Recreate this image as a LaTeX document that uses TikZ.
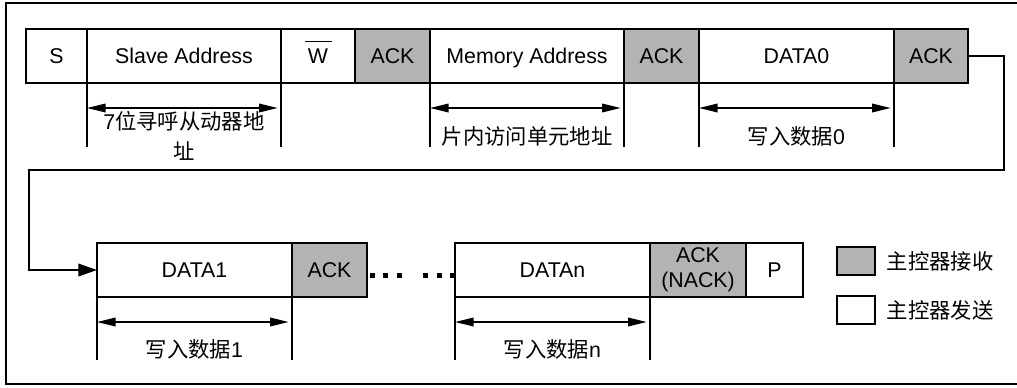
\documentclass[tikz,border=0pt]{standalone}
\usepackage{fontspec}
\setmainfont{Liberation Sans}
\newfontfamily\cjk{Noto Sans CJK SC}
\usepackage{tikz}
\usetikzlibrary{arrows.meta}
\usetikzlibrary{positioning}
\definecolor{ackgray}{RGB}{179,179,179}

\begin{document}
    \begin{tikzpicture}[x=0.75pt, y=-0.75pt,
            font=\fontsize{16}{19}\selectfont,
            field/.style={draw, line width=1.5pt, inner sep=0pt, outer sep=0pt,
                minimum height=40.5pt, text height=11pt, text depth=0pt},
            fw/.style={minimum width=#1*0.75pt},
            ack/.style={field, fill=ackgray},
            guide/.style={line width=1.1pt},
            span/.style={line width=1.1pt, shorten >=2.5pt,
                {Triangle[length=14pt, width=6.5pt]}-{Triangle[length=14pt, width=6.5pt]}},
            note/.style={inner sep=0pt, align=center},
            link/.style={line width=1.1pt, -{Triangle[length=14pt, width=9.5pt]}},
            keybox/.style={draw, line width=1.5pt, inner sep=0pt,
                minimum width=28.5pt, minimum height=20.5pt}]
        \useasboundingbox (0,0) rectangle (1017,387);
        \draw[line width=1.5pt] (1017,3) -| (6,384) -- (1017,384); % outer frame

        % first frame row
        \node[field, fw=61, anchor=north west] (s) at (26,29) {S};
        \node[field, fw=194, right=0pt of s] (slave) {Slave Address};
        \node[field, fw=74, right=0pt of slave] (wbit)
            {\rlap{\hspace*{-2.25pt}\smash{\rule[16pt]{20.25pt}{1.1pt}}}W};
        \node[ack, fw=75, right=0pt of wbit] (ack1) {ACK};
        \node[field, fw=194, right=0pt of ack1] (memaddr) {Memory Address};
        \node[ack, fw=75, right=0pt of memaddr] (ack2) {ACK};
        \node[field, fw=195, right=0pt of ack2] (data0) {DATA0};
        \node[ack, fw=74, right=0pt of data0] (ack3) {ACK};

        % second frame row
        \node[field, fw=195, anchor=north west] (data1) at (97,243) {DATA1};
        \node[ack, fw=75, right=0pt of data1] (ack4) {ACK};
        \node[field, fw=195, right=66pt of ack4] (datan) {DATAn};
        \node[ack, fw=96, right=0pt of datan, align=center,
            text height=, text depth=] (ackn) {ACK\\(NACK)};
        \node[field, fw=57, right=0pt of ackn] (p) {P};
        \foreach \x in {370,383,397,423,437,450}
            \fill (\x,273) rectangle +(5,4.5); % skipped bytes

        % extent of each field
        \foreach \n in {slave, memaddr, data0}{
            \draw[guide] (\n.south west) -- +(0,64);
            \draw[guide] (\n.south east) -- +(0,64);
            \draw[span] ([yshift=-18.75pt]\n.south west) -- ([yshift=-18.75pt]\n.south east);
        }
        \foreach \n in {data1, datan}{
            \draw[guide] (\n.south west) -- +(0,63);
            \draw[guide] (\n.south east) -- +(0,63);
            \draw[span] ([yshift=-18.75pt]\n.south west) -- ([yshift=-18.75pt]\n.south east);
        }
        \node[note] (lblslave) at ([yshift=-39.75pt]slave.south)
            {7{\cjk 位寻呼从动器地}\\[3pt]{\cjk 址}};
        \node[note] (lblmem) at ([yshift=-39.75pt]memaddr.south) {\cjk 片内访问单元地址};
        \node[note] (lbldata0) at ([yshift=-39.75pt]data0.south) {{\cjk 写入数据}0};
        \node[note] (lbldata1) at ([yshift=-39pt]data1.south) {{\cjk 写入数据}1};
        \node[note] (lbldatan) at ([yshift=-39pt]datan.south) {{\cjk 写入数据}n};

        % wrap round to the second row
        \coordinate (bendR) at (1004,170);
        \coordinate (bendL) at (29,170);
        \draw[link] (ack3.east) -| (bendR) -- (bendL) |- (data1.west);

        % key
        \node[keybox, fill=ackgray] (keyrx) at (856,261) {};
        \node[note, right=8pt of keyrx] (txtrx) {\cjk 主控器接收};
        \node[keybox] (keytx) at (856,310) {};
        \node[note, right=8pt of keytx] (txttx) {\cjk 主控器发送};
    \end{tikzpicture}
\end{document}
